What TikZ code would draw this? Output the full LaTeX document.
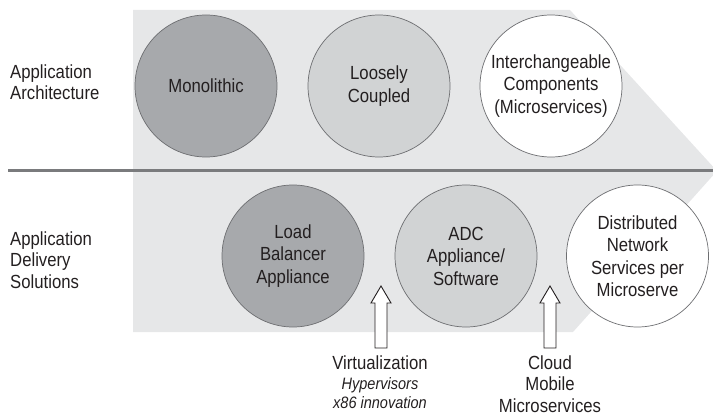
\documentclass[tikz,border=0pt]{standalone}
\usepackage{fontspec}
\setmainfont{Liberation Sans}[FakeStretch=0.88]
\usetikzlibrary{calc}

\definecolor{panel}{HTML}{E6E7E8}
\definecolor{darkdisc}{HTML}{A7A9AC}
\definecolor{middisc}{HTML}{D1D3D4}
\definecolor{rim}{HTML}{6D6E71}
\definecolor{ink}{HTML}{231F20}
\definecolor{divider}{HTML}{7A7B7D}

\newcommand\mainsize{\fontsize{19}{22.5}\selectfont}
\newcommand\tightsize{\fontsize{19}{21.5}\selectfont}
\newcommand\notesize{\fontsize{16.5}{19}\selectfont\itshape}

\begin{document}
\begin{tikzpicture}[x=1pt, y=-1pt,
  disc/.style={circle, draw=rim, line width=0.7pt, minimum size=142pt,
    inner sep=0pt, align=center, text=ink, font=\mainsize},
  sidelabel/.style={anchor=base west, align=left, inner sep=0pt,
    text=ink, font=\tightsize},
  driver/.style={anchor=north, align=center, inner sep=0pt, text=ink,
    font=\tightsize},
  drivernote/.style={anchor=north, align=center, inner sep=0pt, text=ink,
    font=\notesize},
  hollow/.style={draw=ink, fill=white, line width=0.9pt, line join=miter},
  pics/uparrow/.style={code={
    \draw[hollow] (-6,62) -- (-6,17) -- (-10,17) -- (0,0) -- (10,17)
      -- (6,17) -- (6,62) -- cycle;}}
]
\useasboundingbox (0,0) rectangle (713,417);
\clip (0,0) rectangle (713,417);

% chevron backdrop spanning both rows
\fill[panel] (133,10) -- (570,10) -- (717,171) -- (573,332) -- (133,332) -- cycle;

% row divider
\draw[divider, line width=3pt] (8,171) -- (713,171);

% row labels (anchored on the baseline of their last line)
\node[sidelabel] (arch)  at (10,100) {Application\\Architecture};
\node[sidelabel] (deliv) at (10,288) {Application\\Delivery\\Solutions};

% architecture stages
\node[disc, fill=darkdisc] (mono)  at (206,86) {Monolithic};
\node[disc, fill=middisc]  (loose) at (379,86) {Loosely\\Coupled};
\node[disc, fill=white]    (micro) at (551,86) {Interchangeable\\Components\\(Microservices)};

% delivery stages
\node[disc, fill=darkdisc] (lb)   at (293,256)   {Load\\Balancer\\Appliance};
\node[disc, fill=middisc]  (adc)  at (466,256)   {ADC\\Appliance/\\Software};
\node[disc, fill=white]    (dist) at (637.5,256) {Distributed\\Network\\Services per\\Microserve};

% transition drivers
\node[driver] (virt) at (380,355.5) {Virtualization};
\node[drivernote] (virtnote) at (380,377) {Hypervisors\\x86 innovation};
\node[driver] (cloud) at (550,355.5) {Cloud\\Mobile\\Microservices};

\pic at ($(virt.north)+(1,-69.5)$) {uparrow};
\pic at ($(cloud.north)+(0,-69.5)$) {uparrow};
\end{tikzpicture}
\end{document}
